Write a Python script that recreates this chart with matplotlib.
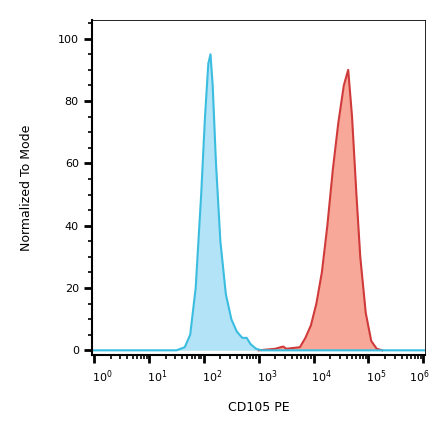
import numpy as np
import matplotlib
matplotlib.use("Agg")
import matplotlib.pyplot as plt
from matplotlib.ticker import MultipleLocator, FixedLocator
import matplotlib.transforms as mtrans

blue_logx = [-0.1,1.5,1.65,1.75,1.85,1.95,2.02,2.08,2.12,2.16,2.22,2.3,2.4,2.5,2.6,2.7,2.78,2.85,2.95,3.05,6.1]
blue_y    = [0,0,1,5,20,50,75,92,95,85,60,35,18,10,6,4,4,2,0.5,0,0]
red_logx = [3.0,3.3,3.4,3.45,3.5,3.75,3.85,3.95,4.05,4.15,4.25,4.35,4.45,4.55,4.63,4.7,4.78,4.85,4.95,5.05,5.15,5.25]
red_y    = [0,0.5,1,1.2,0.5,1,4,8,15,25,40,58,73,85,90,75,50,30,12,3,0.5,0]
tick_labels = ["10$^{0}$","10$^{1}$","10$^{2}$","10$^{3}$","10$^{4}$","10$^{5}$","10$^{6}$"]

fig = plt.figure(figsize=(4.40,4.41), dpi=100)
ax = fig.add_axes([92/440, 1-355/441, 333/440, 335/441])
bx = 10**np.array(blue_logx); rx = 10**np.array(red_logx)
ax.fill_between(rx, red_y, color="#f7a898", lw=0)
ax.plot(rx, red_y, color="#d03a3a", lw=1.5)
ax.fill_between(bx, blue_y, color="#b3e3f7", lw=0)
ax.plot(bx, blue_y, color="#3bbde0", lw=1.5)
ax.set_xscale("log")
ax.set_xlim(10**-0.04, 10**6.03)
ax.set_ylim(-1.5, 106)
ax.xaxis.set_major_locator(FixedLocator([10**i for i in range(7)]))
ax.set_xticklabels(tick_labels)
minors = [k*10**i for i in range(6) for k in range(2,10)]
ax.xaxis.set_minor_locator(FixedLocator(minors))
ax.xaxis.set_minor_formatter(plt.NullFormatter())
ax.yaxis.set_major_locator(MultipleLocator(20))
ax.yaxis.set_minor_locator(MultipleLocator(5))
ax.tick_params(axis="both", which="major", length=6, width=2, labelsize=8, color="black")
ax.tick_params(axis="both", which="minor", length=3, width=1.2)
labs = ax.get_xticklabels()
for i, lab in enumerate(labs):
    off = 8 if i < 6 else -4
    lab.set_transform(lab.get_transform() + mtrans.ScaledTranslation(off/100, 0, fig.dpi_scale_trans))
for s in ["left","bottom"]:
    ax.spines[s].set_linewidth(1.5)
for s in ["top","right"]:
    ax.spines[s].set_linewidth(0.6)
ax.set_xlabel("CD105 PE", fontsize=9, labelpad=12)
ax.set_ylabel("Normalized To Mode", fontsize=9, labelpad=18)
fig.savefig("out.png", dpi=100)
